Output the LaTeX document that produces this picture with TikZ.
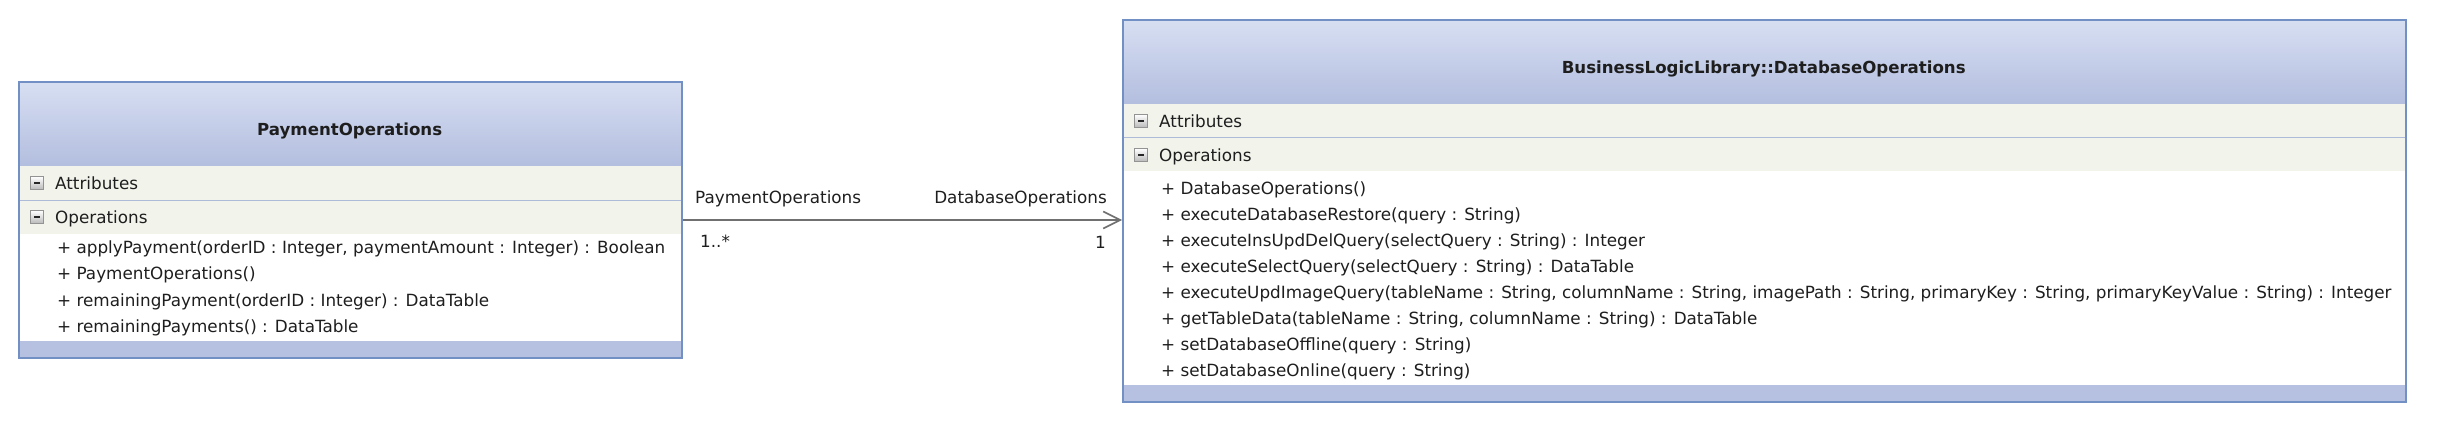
\documentclass[tikz,border=0pt]{standalone}
\usepackage{fontspec}
\setmainfont{DejaVu Sans}
\usetikzlibrary{positioning,arrows.meta}

\definecolor{umlborder}{HTML}{7290C4}
\definecolor{umltop}{HTML}{D7DFF2}
\definecolor{umlbot}{HTML}{B3BEDF}
\definecolor{umlrow}{HTML}{F2F4EC}
\definecolor{umlsep}{HTML}{AEBBD8}
\definecolor{umlfoot}{HTML}{B6C1E1}
\definecolor{umlline}{HTML}{707070}
\definecolor{umltext}{HTML}{1E1E1E}

\tikzset{
  txt/.style={font=\fontsize{16.8}{20}\selectfont, text=umltext, inner sep=0pt,
    text height=12pt, text depth=0pt},
  head/.style={anchor=north west, inner sep=0pt, top color=umltop, bottom color=umlbot},
  title/.style={txt, font=\fontsize{16.6}{20}\selectfont\bfseries},
  row/.style={anchor=north west, inner sep=0pt, fill=umlrow},
  foot/.style={anchor=north west, inner sep=0pt, fill=umlfoot},
  frame/.style={anchor=north west, inner sep=0pt, draw=umlborder, line width=2pt},
  fold/.style={minimum size=13pt, inner sep=0pt, draw=gray!85, top color=white,
    bottom color=gray!55,
    path picture={\draw[line width=2.2pt, black!85]
      ([xshift=3.5pt]path picture bounding box.west) --
      ([xshift=-3.5pt]path picture bounding box.east);}},
  member/.style={txt, anchor=west},
  assoc/.style={draw=umlline, line width=1.4pt,
    -{Straight Barb[length=17pt, width=17pt, line width=1.6pt]}}
}

\begin{document}
\begin{tikzpicture}[x=1pt, y=-1pt]
  \useasboundingbox (0,0) rectangle (2444,436);

  % PaymentOperations
  \node[head, minimum width=663pt, minimum height=85pt] (poHead) at (18,81) {};
  \node[title] (poName) at ([yshift=-6pt]poHead.center) {PaymentOperations};
  \node[row, minimum width=663pt, minimum height=34pt] (poAttr) at (18,166) {};
  \node[row, minimum width=663pt, minimum height=34pt] (poOps) at (18,200) {};
  \draw[umlsep, line width=1pt] (poAttr.south west) -- (poAttr.south east);
  \node[fold] (poAttrFold) at (37,183) {};
  \node[member] (poAttrText) at (55,183) {Attributes};
  \node[fold] (poOpsFold) at (37,217) {};
  \node[member] (poOpsText) at (55,217) {Operations};
  \node[member] (poOp1) at (57,247) {+ applyPayment(orderID : Integer, paymentAmount : Integer) : Boolean};
  \node[member] (poOp2) at (57,273.5) {+ PaymentOperations()};
  \node[member] (poOp3) at (57,300) {+ remainingPayment(orderID : Integer) : DataTable};
  \node[member] (poOp4) at (57,326.5) {+ remainingPayments() : DataTable};
  \node[foot, minimum width=663pt, minimum height=16pt] (poFoot) at (18,341) {};
  \node[frame, minimum width=663pt, minimum height=276pt] (po) at (18,81) {};

  % BusinessLogicLibrary::DatabaseOperations
  \node[head, minimum width=1283pt, minimum height=85pt] (dboHead) at (1122,19) {};
  \node[title] (dboName) at ([yshift=-6pt]dboHead.center) {BusinessLogicLibrary::DatabaseOperations};
  \node[row, minimum width=1283pt, minimum height=33pt] (dboAttr) at (1122,104) {};
  \node[row, minimum width=1283pt, minimum height=34pt] (dboOps) at (1122,137) {};
  \draw[umlsep, line width=1pt] (dboAttr.south west) -- (dboAttr.south east);
  \node[fold] (dboAttrFold) at (1141,121) {};
  \node[member] (dboAttrText) at (1159,121) {Attributes};
  \node[fold] (dboOpsFold) at (1141,155) {};
  \node[member] (dboOpsText) at (1159,155) {Operations};
  \node[member] (dboOp1) at (1161,188) {+ DatabaseOperations()};
  \node[member] (dboOp2) at (1161,214) {+ executeDatabaseRestore(query : String)};
  \node[member] (dboOp3) at (1161,240) {+ executeInsUpdDelQuery(selectQuery : String) : Integer};
  \node[member] (dboOp4) at (1161,266) {+ executeSelectQuery(selectQuery : String) : DataTable};
  \node[member] (dboOp5) at (1161,292) {+ executeUpdImageQuery(tableName : String, columnName : String, imagePath : String, primaryKey : String, primaryKeyValue : String) : Integer};
  \node[member] (dboOp6) at (1161,318) {+ getTableData(tableName : String, columnName : String) : DataTable};
  \node[member] (dboOp7) at (1161,344) {+ setDatabaseOffline(query : String)};
  \node[member] (dboOp8) at (1161,370) {+ setDatabaseOnline(query : String)};
  \node[foot, minimum width=1283pt, minimum height=16pt] (dboFoot) at (1122,385) {};
  \node[frame, minimum width=1283pt, minimum height=382pt] (dbo) at (1122,19) {};

  % association
  \coordinate (dbIn) at (po.east -| dbo.west);
  \draw[assoc] (po.east) -- (dbIn);
  \node[txt, above right=16pt and 12pt of po.east] (poRole) {PaymentOperations};
  \node[txt, below right=15pt and 17pt of po.east] (poMult) {1..*};
  \node[txt, above left=16pt and 15pt of dbIn] (dboRole) {DatabaseOperations};
  \node[txt, below left=16pt and 16pt of dbIn] (dboMult) {1};
\end{tikzpicture}
\end{document}
